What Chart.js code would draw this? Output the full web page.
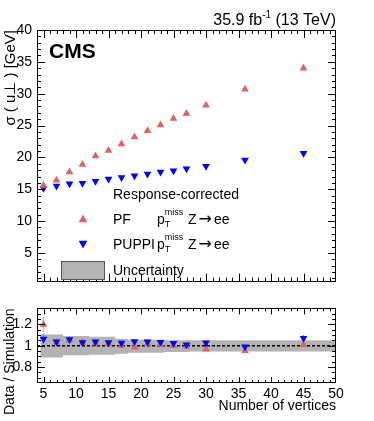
<!DOCTYPE html>
<html>
<head>
<meta charset="utf-8">
<script src="https://cdn.jsdelivr.net/npm/chart.js@4.4.1/dist/chart.umd.min.js"></script>
<style>
  body { margin: 0; background: #fff; }
  #wrap { position: relative; width: 374px; height: 421px; }
  #topChart { position: absolute; left: 0; top: 0; }
  #ratioChart { position: absolute; left: 0; top: 295px; }
</style>
</head>
<body>
<div id="wrap">
  <canvas id="topChart" width="374" height="295" style="width:374px;height:295px"></canvas>
  <canvas id="ratioChart" width="374" height="126" style="width:374px;height:126px"></canvas>
</div>
<script>
const FONT = '"Liberation Sans", Arial, Helvetica, sans-serif';

// number of vertices (bin centres)
const vertices = [5, 7, 9, 11, 13, 15, 17, 19, 21, 23, 25, 27, 30, 36, 45];

// sigma(u_perp) in GeV
const pfSigma = [15.6, 16.4, 17.7, 18.9, 20.2, 21.1, 22.1, 23.2, 24.2, 25.1, 26.1, 26.9, 28.2, 30.7, 34.0];
const puppiSigma = [15.15, 15.5, 15.85, 15.95, 16.25, 16.6, 16.85, 17.1, 17.4, 17.7, 17.9, 18.2, 18.6, 19.6, 20.65];

// data / simulation
const pfRatio = [1.20, 1.03, 1.05, 1.03, 1.022, 1.02, 1.0, 0.986, 1.02, 1.017, 1.0, 0.995, 0.967, 0.953, 1.008];
const pfRatioErr = [0.07, 0.012, 0.012, 0.012, 0.012, 0.012, 0.012, 0.012, 0.012, 0.012, 0.012, 0.012, 0.012, 0.015, 0.02];
const puppiRatio = [1.064, 1.036, 1.058, 1.03, 1.036, 1.03, 1.025, 1.04, 1.036, 1.033, 1.022, 1.008, 1.028, 0.99, 1.07];
const puppiRatioErr = [0.05, 0.012, 0.012, 0.012, 0.012, 0.012, 0.012, 0.012, 0.012, 0.012, 0.012, 0.012, 0.012, 0.015, 0.03];

// uncertainty band (bin edges and upper / lower edge per bin)
const bandEdges = [4.5, 8, 12, 16, 18, 23.5, 27.5, 31, 38, 45.5, 50];
const bandHigh = [1.105, 1.09, 1.085, 1.065, 1.055, 1.05, 1.05, 1.05, 1.05, 1.05];
const bandLow = [0.89, 0.91, 0.915, 0.925, 0.935, 0.94, 0.945, 0.945, 0.945, 0.945];

// axis ticks
const xTicks = [5, 10, 15, 20, 25, 30, 35, 40, 45, 50];
const yTicksTop = [5, 10, 15, 20, 25, 30, 35, 40];
const yTicksRatio = [0.8, 1, 1.2];

const PF_COLOR = '#dc6468';
const PUPPI_COLOR = '#0000ff';

function pts(ys) {
  return vertices.map((v, i) => ({ x: v, y: ys[i] }));
}

function bandPts(vals) {
  return bandEdges.map((e, i) => ({ x: e, y: vals[Math.min(i, vals.length - 1)] }));
}

function range(from, to, step) {
  const out = [];
  for (let v = from; v <= to + 1e-9; v += step) out.push(Math.round(v * 1000) / 1000);
  return out;
}

// ROOT style frame with ticks pointing inwards on all four sides
function drawFrame(chart, cfg) {
  const ctx = chart.ctx;
  const a = chart.chartArea;
  const xs = chart.scales.x;
  const ys = chart.scales.y;
  ctx.save();
  ctx.strokeStyle = '#000';
  ctx.lineWidth = 1;
  ctx.beginPath();
  cfg.xMinor.forEach(v => {
    const len = cfg.xMajor.includes(v) ? cfg.xMajLen : cfg.xMinLen;
    const p = Math.round(xs.getPixelForValue(v)) + 0.5;
    if (p < a.left || p > a.right) return;
    ctx.moveTo(p, a.bottom); ctx.lineTo(p, a.bottom - len);
    ctx.moveTo(p, a.top); ctx.lineTo(p, a.top + len);
  });
  cfg.yMinor.forEach(v => {
    const len = cfg.yMajor.includes(v) ? cfg.yMajLen : cfg.yMinLen;
    const p = Math.round(ys.getPixelForValue(v)) + 0.5;
    if (p < a.top || p > a.bottom) return;
    ctx.moveTo(a.left, p); ctx.lineTo(a.left + len, p);
    ctx.moveTo(a.right, p); ctx.lineTo(a.right - len, p);
  });
  ctx.stroke();
  ctx.strokeRect(Math.round(a.left) + 0.5, Math.round(a.top) + 0.5,
    Math.round(a.right - a.left) - 1, Math.round(a.bottom - a.top) - 1);
  ctx.restore();
}

function triangle(ctx, x, y, r, down, color) {
  const s = down ? -1 : 1;
  ctx.beginPath();
  ctx.moveTo(x, y - s * r);
  ctx.lineTo(x + r * 0.95, y + s * r * 0.7);
  ctx.lineTo(x - r * 0.95, y + s * r * 0.7);
  ctx.closePath();
  ctx.fillStyle = color;
  ctx.fill();
}

// p_T^miss Z -> ee
function drawPtMiss(ctx, x, y) {
  ctx.font = '14px ' + FONT;
  ctx.fillText('p', x, y);
  const w = ctx.measureText('p').width;
  ctx.font = '9px ' + FONT;
  ctx.fillText('miss', x + w, y - 7);
  ctx.fillText('T', x + w, y + 5);
  ctx.font = '14px ' + FONT;
  let cx = 188;
  ctx.fillText('Z', cx, y);
  cx += ctx.measureText('Z').width + 2;
  ctx.font = '16px "DejaVu Sans", ' + FONT;
  ctx.fillText('\u2192', cx, y);
  cx += ctx.measureText('\u2192').width + 2;
  ctx.font = '14px ' + FONT;
  ctx.fillText('ee', cx, y);
}

const topDecor = {
  id: 'topDecor',
  afterDraw(chart) {
    drawFrame(chart, {
      xMajor: xTicks, xMinor: range(4, 50, 1), xMajLen: 8, xMinLen: 4,
      yMajor: yTicksTop, yMinor: range(1, 40, 1), yMajLen: 8, yMinLen: 4
    });
    const ctx = chart.ctx;
    ctx.save();
    ctx.fillStyle = '#000';
    ctx.textBaseline = 'middle';

    // CMS label
    ctx.font = 'bold 21px ' + FONT;
    ctx.textAlign = 'left';
    ctx.fillText('CMS', 49, 52);

    // luminosity label, right aligned to the frame
    ctx.font = '16px ' + FONT;
    const right = chart.chartArea.right;
    const t1 = '35.9 fb', t2 = '-1', t3 = ' (13 TeV)';
    const w1 = ctx.measureText(t1).width;
    const w3 = ctx.measureText(t3).width;
    ctx.font = '10px ' + FONT;
    const w2 = ctx.measureText(t2).width;
    const x = right - w1 - w2 - w3;
    ctx.font = '16px ' + FONT;
    ctx.fillText(t1, x, 21);
    ctx.font = '10px ' + FONT;
    ctx.fillText(t2, x + w1, 15);
    ctx.font = '16px ' + FONT;
    ctx.fillText(t3, x + w1 + w2, 21);

    // legend
    ctx.font = '14px ' + FONT;
    ctx.fillText('Response-corrected', 113, 195);
    triangle(ctx, 83, 219, 4.5, false, PF_COLOR);
    ctx.fillStyle = '#000';
    ctx.fillText('PF', 113, 220);
    drawPtMiss(ctx, 157, 220);
    triangle(ctx, 83, 244, 4.5, true, PUPPI_COLOR);
    ctx.fillStyle = '#000';
    ctx.fillText('PUPPI', 113, 245);
    drawPtMiss(ctx, 157, 245);
    ctx.fillStyle = '#b3b3b3';
    ctx.fillRect(61, 261, 43, 18);
    ctx.strokeStyle = '#555';
    ctx.lineWidth = 1;
    ctx.strokeRect(61.5, 261.5, 43, 18);
    ctx.fillStyle = '#000';
    ctx.fillText('Uncertainty', 113, 271);
    ctx.restore();
  }
};

const ratioDecor = {
  id: 'ratioDecor',
  afterDatasetDraw(chart, args) {
    // error bars go above the band, below the markers
    if (args.index !== 2) return;
    const ctx = chart.ctx;
    const xs = chart.scales.x, ys = chart.scales.y;
    ctx.save();
    ctx.lineWidth = 1.5;
    [[pfRatio, pfRatioErr, '#f2a8aa'], [puppiRatio, puppiRatioErr, '#7f7fff']].forEach(([vals, errs, col]) => {
      ctx.strokeStyle = col;
      ctx.beginPath();
      vals.forEach((v, i) => {
        const px = xs.getPixelForValue(vertices[i]);
        ctx.moveTo(px, ys.getPixelForValue(v - errs[i]));
        ctx.lineTo(px, ys.getPixelForValue(v + errs[i]));
      });
      ctx.stroke();
    });
    // reference line at unity
    const a = chart.chartArea;
    const py = ys.getPixelForValue(1);
    ctx.strokeStyle = '#000';
    ctx.lineWidth = 1.5;
    ctx.setLineDash([3, 2]);
    ctx.beginPath();
    ctx.moveTo(a.left, py);
    ctx.lineTo(a.right, py);
    ctx.stroke();
    ctx.restore();
  },
  afterDraw(chart) {
    drawFrame(chart, {
      xMajor: xTicks, xMinor: range(4, 50, 1), xMajLen: 6, xMinLen: 3,
      yMajor: yTicksRatio, yMinor: range(0.7, 1.35, 0.05), yMajLen: 8, yMinLen: 4
    });
  }
};

const tickFont = { family: FONT, size: 14 };
const plainLabel = v => String(Math.round(v * 100) / 100);

new Chart(document.getElementById('topChart'), {
  type: 'line',
  data: {
    datasets: [
      {
        label: 'PF',
        data: pts(pfSigma),
        showLine: false,
        pointStyle: 'triangle',
        pointRadius: 4.5,
        backgroundColor: PF_COLOR,
        borderColor: PF_COLOR,
        borderWidth: 0
      },
      {
        label: 'PUPPI',
        data: pts(puppiSigma),
        showLine: false,
        pointStyle: 'triangle',
        rotation: 180,
        pointRadius: 4.5,
        backgroundColor: PUPPI_COLOR,
        borderColor: PUPPI_COLOR,
        borderWidth: 0
      }
    ]
  },
  options: {
    responsive: false,
    animation: false,
    layout: { padding: { top: 30, right: 38, bottom: 5, left: 0 } },
    plugins: { legend: { display: false }, tooltip: { enabled: false } },
    scales: {
      x: { type: 'linear', min: 4, max: 50, display: false },
      y: {
        type: 'linear', min: 0.5, max: 40,
        afterBuildTicks(scale) { scale.ticks = yTicksTop.map(v => ({ value: v })); },
        afterFit(scale) { scale.width = 37; },
        grid: { display: false, drawTicks: false },
        border: { display: false },
        ticks: { color: '#000', font: tickFont, padding: 5, callback: plainLabel },
        title: {
          display: true, text: '\u03c3 ( u\u22a5 ) [GeV]', align: 'end',
          color: '#000', font: { family: FONT, size: 15 }, padding: { top: 2, bottom: 0 }
        }
      }
    }
  },
  plugins: [topDecor]
});

new Chart(document.getElementById('ratioChart'), {
  type: 'line',
  data: {
    datasets: [
      {
        label: 'PUPPI',
        data: pts(puppiRatio),
        showLine: false,
        pointStyle: 'triangle',
        rotation: 180,
        pointRadius: 4.5,
        backgroundColor: PUPPI_COLOR,
        borderColor: PUPPI_COLOR,
        borderWidth: 0,
        order: 0
      },
      {
        label: 'PF',
        data: pts(pfRatio),
        showLine: false,
        pointStyle: 'triangle',
        pointRadius: 4.5,
        backgroundColor: PF_COLOR,
        borderColor: PF_COLOR,
        borderWidth: 0,
        order: 1
      },
      {
        label: 'Uncertainty low',
        data: bandPts(bandLow),
        stepped: 'before',
        borderWidth: 0,
        borderColor: 'rgba(0,0,0,0)',
        pointRadius: 0,
        fill: '+1',
        backgroundColor: '#b3b3b3',
        order: 2
      },
      {
        label: 'Uncertainty high',
        data: bandPts(bandHigh),
        stepped: 'before',
        borderWidth: 0,
        borderColor: 'rgba(0,0,0,0)',
        pointRadius: 0,
        fill: false,
        order: 3
      }
    ]
  },
  options: {
    responsive: false,
    animation: false,
    layout: { padding: { top: 4, right: 38, bottom: 0, left: 0 } },
    plugins: { legend: { display: false }, tooltip: { enabled: false } },
    scales: {
      x: {
        type: 'linear', min: 4, max: 50,
        afterBuildTicks(scale) { scale.ticks = xTicks.map(v => ({ value: v })); },
        afterFit(scale) { scale.height = 38; },
        grid: { display: false, drawTicks: false },
        border: { display: false },
        ticks: { color: '#000', font: tickFont, padding: 3, maxRotation: 0, autoSkip: false, callback: plainLabel },
        title: {
          display: true, text: 'Number of vertices', align: 'end',
          color: '#000', font: { family: FONT, size: 14 }, padding: { top: 0, bottom: 6 }
        }
      },
      y: {
        type: 'linear', min: 0.65, max: 1.35,
        afterBuildTicks(scale) { scale.ticks = yTicksRatio.map(v => ({ value: v })); },
        afterFit(scale) { scale.width = 37; },
        grid: { display: false, drawTicks: false },
        border: { display: false },
        ticks: { color: '#000', font: tickFont, padding: 5, callback: plainLabel },
        title: {
          display: true, text: 'Data / Simulation', align: 'end',
          color: '#000', font: { family: FONT, size: 14 }, padding: { top: 2, bottom: 0 }
        }
      }
    }
  },
  plugins: [ratioDecor]
});
</script>
</body>
</html>
